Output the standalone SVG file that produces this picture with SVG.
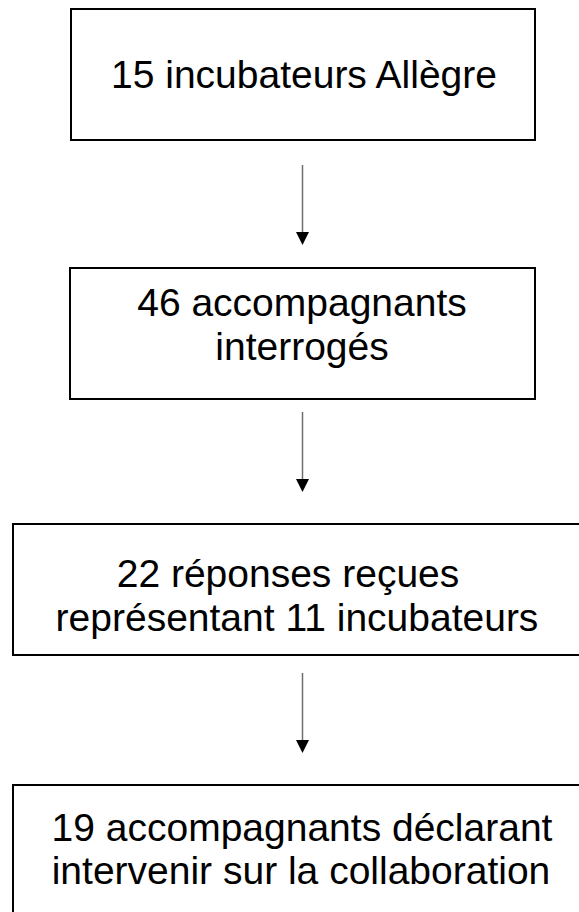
<svg xmlns="http://www.w3.org/2000/svg" width="579" height="912" viewBox="0 0 579 912">
<style>
.box{fill:#fff;stroke:#000;stroke-width:2}
.t{font-family:"Liberation Sans",Arial,sans-serif;font-size:39px;fill:#000;text-anchor:middle}
.c{stroke:#6e6e6e;stroke-width:1.5;fill:none}
.h{fill:#000}
</style>
<rect width="579" height="912" fill="#fff"/>
<g id="n1"><rect class="box" x="71" y="9" width="464" height="131"/><text class="t" x="304" y="88">15 incubateurs Allègre</text></g>
<g id="n2"><rect class="box" x="70" y="268" width="465" height="131"/><text class="t" x="302" y="316">46 accompagnants</text><text class="t" x="302" y="360">interrogés</text></g>
<g id="n3"><rect class="box" x="13" y="524" width="600" height="131"/><text class="t" x="288" y="587">22 réponses reçues</text><text class="t" x="297" y="631">représentant 11 incubateurs</text></g>
<g id="n4"><rect class="box" x="13" y="785" width="600" height="140"/><text class="t" x="302" y="841">19 accompagnants déclarant</text><text class="t" x="301" y="884">intervenir sur la collaboration</text></g>
<g id="connectors">
<line class="c" x1="302.5" y1="165" x2="302.5" y2="234"/><polygon class="h" points="296,232 309,232 302.5,245"/>
<line class="c" x1="302.5" y1="412" x2="302.5" y2="481"/><polygon class="h" points="296,479 309,479 302.5,492"/>
<line class="c" x1="302.5" y1="673" x2="302.5" y2="742"/><polygon class="h" points="296,740 309,740 302.5,753"/>
</g>
</svg>
